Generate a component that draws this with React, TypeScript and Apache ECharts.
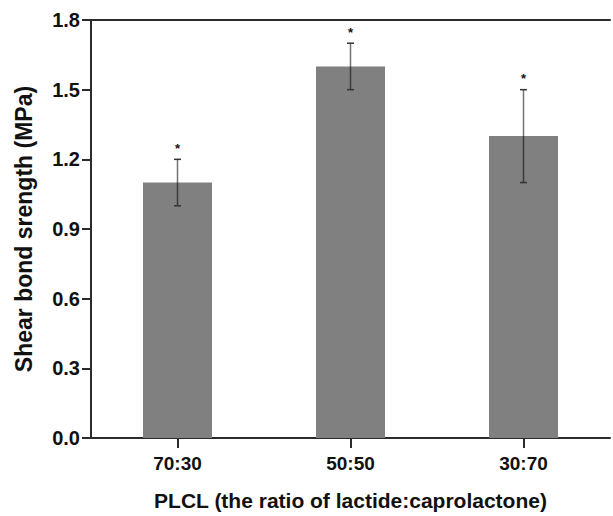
import React, { useEffect, useRef } from "react";
import * as echarts from "echarts";

const categories = ["70:30", "50:50", "30:70"];
const means = [1.1, 1.6, 1.3];
const errors = [0.1, 0.1, 0.2];
const marks = ["*", "*", "*"];
const yMin = 0;
const yMax = 1.8;
const yStep = 0.3;

const FONT = "Liberation Sans, Arial, sans-serif";

export default function App() {
  const ref = useRef<HTMLDivElement>(null);
  useEffect(() => {
    if (!ref.current) return;
    const chart = echarts.init(ref.current, undefined, { renderer: "svg" });
    const errData = categories.map((c, i) => [i, means[i] - errors[i], means[i] + errors[i], i]);
    chart.setOption({
      animation: false,
      backgroundColor: "#ffffff",
      grid: { left: 91, right: 3, top: 20, bottom: 76, containLabel: false },
      xAxis: [
        {
          type: "category",
          data: categories,
          position: "bottom",
          axisLine: { show: true, lineStyle: { color: "#2b2b2b", width: 2 } },
          axisTick: { show: true, alignWithLabel: true, length: 10, lineStyle: { color: "#2b2b2b", width: 2 } },
          axisLabel: { color: "#111", fontFamily: FONT, fontWeight: "bold", fontSize: 19, margin: 16 },
          name: "PLCL (the ratio of lactide:caprolactone)",
          nameLocation: "middle",
          nameGap: 52,
          nameTextStyle: { color: "#111", fontFamily: FONT, fontSize: 21, fontWeight: "bold" },
          splitLine: { show: false },
        },
        {
          type: "category",
          data: categories,
          position: "top",
          axisLine: { show: true, lineStyle: { color: "#2b2b2b", width: 2 } },
          axisTick: { show: false },
          axisLabel: { show: false },
          splitLine: { show: false },
        },
      ],
      yAxis: {
        type: "value",
        min: yMin,
        max: yMax,
        interval: yStep,
        axisLine: { show: true, lineStyle: { color: "#2b2b2b", width: 2 } },
        axisTick: { show: true, length: 9, lineStyle: { color: "#2b2b2b", width: 2 } },
        axisLabel: {
          color: "#111",
          fontFamily: FONT,
          fontWeight: "bold",
          fontSize: 20,
          margin: 11,
          formatter: (v: number) => v.toFixed(1),
        },
        splitLine: { show: false },
        name: "Shear bond srength (MPa)",
        nameLocation: "middle",
        nameGap: 56,
        nameRotate: 90,
        nameTextStyle: { color: "#111", fontFamily: FONT, fontSize: 23, fontWeight: "bold" },
      },
      series: [
        {
          type: "bar",
          data: means,
          barWidth: 69,
          itemStyle: { color: "#808080" },
          z: 2,
        },
        {
          type: "custom",
          data: errData,
          z: 3,
          renderItem: (params: any, api: any) => {
            const x = api.value(0);
            const lo = api.coord([x, api.value(1)]);
            const hi = api.coord([x, api.value(2)]);
            const idx = api.value(3);
            const cap = 3.5;
            const vStyle = { stroke: "rgba(0,0,0,0.55)", lineWidth: 1.5 };
            const cStyle = { stroke: "#333", lineWidth: 1.5 };
            return {
              type: "group",
              children: [
                { type: "line", shape: { x1: hi[0], y1: hi[1], x2: lo[0], y2: lo[1] }, style: vStyle },
                { type: "line", shape: { x1: hi[0] - cap, y1: hi[1], x2: hi[0] + cap, y2: hi[1] }, style: cStyle },
                { type: "line", shape: { x1: lo[0] - cap, y1: lo[1], x2: lo[0] + cap, y2: lo[1] }, style: cStyle },
                {
                  type: "text",
                  x: hi[0],
                  y: hi[1] - 11,
                  style: {
                    text: marks[idx],
                    fill: "#111",
                    font: `bold 13px ${FONT}`,
                    align: "center",
                    verticalAlign: "middle",
                  },
                },
              ],
            };
          },
        },
      ],
    });
    return () => chart.dispose();
  }, []);
  return <div ref={ref} style={{ position: "absolute", left: 0, top: 0, width: 613, height: 516 }} />;
}
